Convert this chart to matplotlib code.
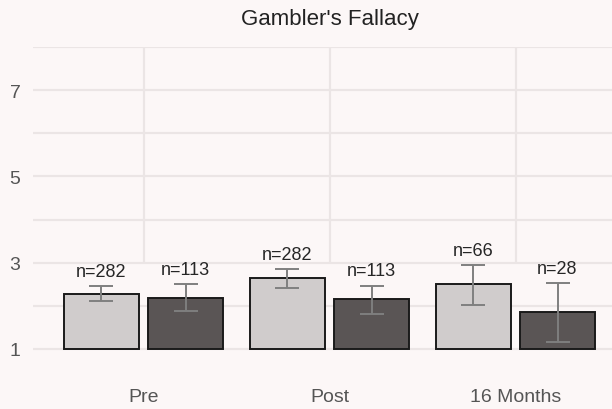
import matplotlib
matplotlib.use('Agg')
import matplotlib.pyplot as plt
import numpy as np

plt.rcParams['font.family'] = ['Liberation Sans', 'DejaVu Sans']

# data
groups = ['Pre', 'Post', '16 Months']
light_mean = [2.27, 2.64, 2.50]
light_lo = [2.11, 2.41, 2.03]
light_hi = [2.45, 2.85, 2.94]
light_n = [282, 282, 66]
dark_mean = [2.19, 2.15, 1.86]
dark_lo = [1.88, 1.81, 1.16]
dark_hi = [2.50, 2.47, 2.53]
dark_n = [113, 113, 28]

bg = '#fcf7f7'
grid_col = '#ebe5e5'

fig = plt.figure(figsize=(6.12, 4.10), dpi=100, facecolor=bg)
ax = fig.add_axes([33 / 612, 1 - 352 / 410, 1 - 33 / 612, (352 - 48) / 410])
ax.set_facecolor(bg)

x = np.arange(len(groups))
w = 0.403
off = 0.226

# grid
for yv in range(1, 9):
    ax.axhline(yv, color=grid_col, lw=1.6, zorder=0)
ax.vlines(x, 3, 8, color=grid_col, lw=1.6, zorder=0)

base = 1
for xs, mean, lo, hi, ns, col in [
    (x - off, light_mean, light_lo, light_hi, light_n, '#d0cccc'),
    (x + off, dark_mean, dark_lo, dark_hi, dark_n, '#5a5555'),
]:
    mean = np.array(mean)
    ax.bar(xs, mean - base, bottom=base, width=w, color=col,
           edgecolor='#1a1a1a', linewidth=1.4, zorder=2)
    yerr = [mean - np.array(lo), np.array(hi) - mean]
    ax.errorbar(xs, mean, yerr=yerr, fmt='none', ecolor='#7f7f7f',
                elinewidth=1.4, capsize=8.3, capthick=1.4, zorder=3)
    for xi, h, n in zip(xs, hi, ns):
        ax.annotate(f'n={n}', (xi, h), xytext=(0, 10.5), textcoords='offset points',
                    ha='center', va='center', fontsize=13, color='#262626', zorder=4)

ax.set_xlim(-(143.5 - 33) / 186, 2 + (612 - 515.5) / 186)
ax.set_ylim(1 - 2 / 43.14, 8)
ax.set_yticks([1, 3, 5, 7])
ax.set_xticks(x)
ax.set_xticklabels(groups)
ax.tick_params(axis='both', length=0, labelsize=14, labelcolor='#555555')
ax.tick_params(axis='x', pad=27)
ax.tick_params(axis='y', pad=9)
for s in ax.spines.values():
    s.set_visible(False)

fig.text(330 / 612, 1 - 19 / 410, "Gambler's Fallacy", ha='center', va='center',
         fontsize=16, color='#222222')

fig.savefig('out.png', dpi=100, facecolor=bg)
